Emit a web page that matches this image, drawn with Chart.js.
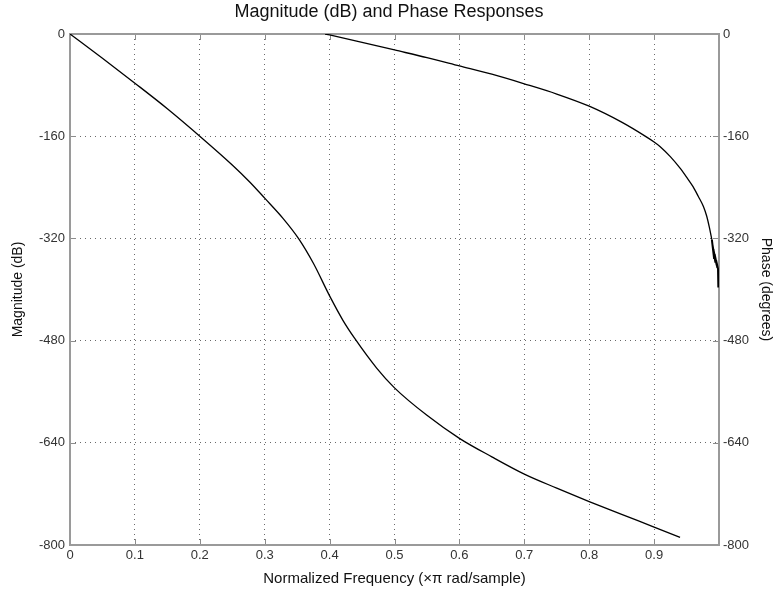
<!DOCTYPE html>
<html>
<head>
<meta charset="utf-8">
<script src="https://cdn.jsdelivr.net/npm/chart.js@4.4.1/dist/chart.umd.min.js"></script>
<style>
html,body{margin:0;padding:0;background:#fff;}
#wrap{width:778px;height:591px;}
</style>
</head>
<body>
<div id="wrap"><canvas id="c"></canvas></div>
<script>
// magnitude response (left axis, dB)
const magFreq = [0,0.05,0.1,0.15,0.2,0.25,0.2773,0.3,0.3285,0.352,0.375,0.4,0.421,0.439,0.4725,0.5,0.55,0.6,0.65,0.7,0.75,0.8,0.85,0.9,0.94];
const magDb = [0,-38,-77,-117,-160,-205,-232,-257,-289,-320,-359,-410,-449,-477,-523,-554,-597,-633,-662,-689,-711,-732,-752,-772,-788];

// phase response (right axis, degrees)
const phaseFreq = [0.393,0.4,0.45,0.5,0.55,0.6,0.65,0.7,0.75,0.8,0.85,0.888,0.9,0.909,0.925,0.94,0.95,0.96,0.968,0.976,0.981,0.985,0.989];
const phaseDeg = [0,-1.5,-13,-25,-37,-50,-63,-78,-94,-113,-138,-161,-169,-176,-192,-210,-224,-239,-254,-270,-285,-302,-322];

// ragged tail of the phase near Nyquist
const rippleFreq = [0.989,0.9925,0.990,0.9945,0.9915,0.9965,0.9935,0.9975,0.9955,0.9985,0.999];
const rippleDeg = [-322,-352,-330,-358,-338,-362,-346,-366,-354,-368,-397];

const yTicks = [0,-160,-320,-480,-640,-800];
const xTicks = [0,0.1,0.2,0.3,0.4,0.5,0.6,0.7,0.8,0.9];

function pts(xs, ys){ return xs.map((x,i)=>({x:x, y:ys[i]})); }

const font = "'Liberation Sans', Arial, sans-serif";

const boxPlugin = {
  id:'box',
  beforeDatasetsDraw(chart){
    const {ctx, chartArea:a, scales} = chart;
    ctx.save();
    ctx.strokeStyle = '#8c8c8c';
    ctx.lineWidth = 1;
    ctx.beginPath();
    scales.x.ticks.forEach((t,i)=>{
      const px = Math.round(scales.x.getPixelForTick(i))+0.5;
      ctx.moveTo(px,a.bottom); ctx.lineTo(px,a.bottom-6);
      ctx.moveTo(px,a.top); ctx.lineTo(px,a.top+6);
    });
    scales.y.ticks.forEach((t,i)=>{
      const py = Math.round(scales.y.getPixelForTick(i))+0.5;
      ctx.moveTo(a.left,py); ctx.lineTo(a.left+6,py);
      ctx.moveTo(a.right,py); ctx.lineTo(a.right-6,py);
    });
    ctx.stroke();
    ctx.lineWidth = 2;
    ctx.strokeStyle = '#9a9a9a';
    ctx.strokeRect(a.left, a.top, a.right-a.left, a.bottom-a.top);
    ctx.restore();
  }
};

const lineStyle = {showLine:true, borderColor:'#000', borderWidth:1.3, pointRadius:0};

new Chart(document.getElementById('c'),{
type:'scatter',
data:{
datasets:[
Object.assign({label:'Magnitude', data:pts(magFreq,magDb), yAxisID:'y', cubicInterpolationMode:'monotone'}, lineStyle),
Object.assign({label:'Phase', data:pts(phaseFreq,phaseDeg), yAxisID:'y1', cubicInterpolationMode:'monotone'}, lineStyle),
Object.assign({}, lineStyle, {label:'Phase tail', data:pts(rippleFreq,rippleDeg), yAxisID:'y1', tension:0, borderWidth:2})
]
},
options:{
responsive:true,
maintainAspectRatio:false,
animation:false,
layout:{padding:0},
plugins:{
legend:{display:false},
tooltip:{enabled:false},
title:{
display:true,
text:'Magnitude (dB) and Phase Responses',
color:'#111',
font:{family:font,size:18,weight:'normal'},
padding:{top:1,bottom:11.4}
}
},
scales:{
x:{
type:'linear',
min:0,max:1,
afterFit(s){ s.height = 46; },
ticks:{
stepSize:0.1,
color:'#333',
font:{family:font,size:13},
padding:3,
maxRotation:0,
callback:(v)=> xTicks.some(t=>Math.abs(t-v)<1e-6) ? String(Math.round(v*10)/10) : ''
},
grid:{color:'#6a6a6a',drawTicks:false,lineWidth:1},
border:{display:false,dash:[1,4]},
title:{display:true,text:'Normalized Frequency (×π rad/sample)',color:'#111',font:{family:font,size:15},padding:{top:2,bottom:3}}
},
y:{
type:'linear',
position:'left',
min:-800,max:0,
afterFit(s){ s.width = 70; },
afterBuildTicks(s){ s.ticks = yTicks.map(v=>({value:v})); },
ticks:{color:'#333',font:{family:font,size:13},padding:5},
grid:{color:'#6a6a6a',drawTicks:false,lineWidth:1},
border:{display:false,dash:[1,4]},
title:{display:true,text:'Magnitude (dB)',color:'#111',font:{family:font,size:14},padding:{top:9.6,bottom:2}}
},
y1:{
type:'linear',
position:'right',
min:-800,max:0,
afterFit(s){ s.width = 59; },
afterBuildTicks(s){ s.ticks = yTicks.map(v=>({value:v})); },
ticks:{color:'#333',font:{family:font,size:13},padding:4},
grid:{display:false,drawTicks:false},
border:{display:false},
title:{display:true,text:'Phase (degrees)',color:'#111',font:{family:font,size:14},padding:{top:3.6,bottom:2}}
}
}
},
plugins:[boxPlugin]
});
</script>
</body>
</html>
